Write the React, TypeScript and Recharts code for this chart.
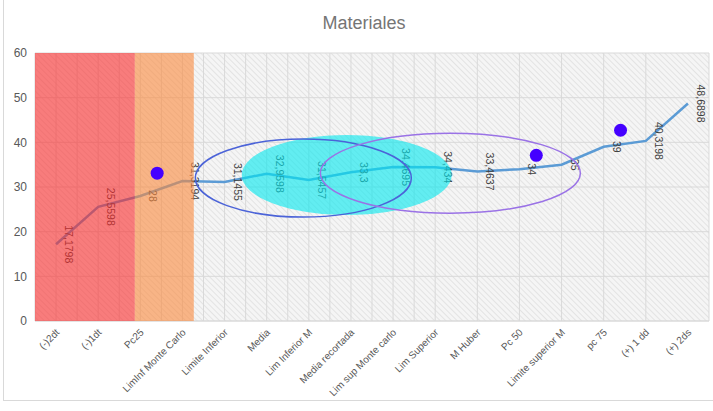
import React from "react";
import {
  ComposedChart,
  Line,
  Scatter,
  XAxis,
  YAxis,
  CartesianGrid,
  ReferenceArea,
  ReferenceDot,
  LabelList,
} from "recharts";

const categories = [
  "(-)2dt",
  "(-)1dt",
  "Pc25",
  "LimInf Monte Carlo",
  "Limite Inferior",
  "Media",
  "Lim Inferior M",
  "Media recortada",
  "Lim sup Monte carlo",
  "Lim Superior",
  "M Huber",
  "Pc 50",
  "Limite superior M",
  "pc 75",
  "(+) 1 dd",
  "(+) 2ds",
];
const values = [
  17.1798, 25.5598, 28, 31.3194, 31.1455, 32.9598, 31.5457, 33.3, 34.4695,
  34.434, 33.4637, 34, 35, 39, 40.3198, 48.6898,
];
// blue markers, placed between categories (index units)
const markerX = [2.4, 11.4, 13.4];
const markerY = [33.1, 37.1, 42.7];
const yTicks = [0, 10, 20, 30, 40, 50, 60];
// shaded zones on the category axis
const redZone = [-0.5, 1.87];
const orangeZone = [1.87, 3.27];
// highlight ellipse centres (category index, value)
const ellipseX = [6.9, 5.87, 9.36];
const ellipseY = [32.7, 32.0, 33.1];

const ellipseStyles = [
  { rx: 105, ry: 40, fill: "#00e8ee", fillOpacity: 0.6, stroke: "none" },
  { rx: 108, ry: 39, fill: "none", fillOpacity: 1, stroke: "#4b63d8" },
  { rx: 130, ry: 40, fill: "none", fillOpacity: 1, stroke: "#9a72e6" },
];

const rows = categories.map((name, i) => ({ x: i, name, v: values[i] }));
const markers = markerX.map((x, i) => ({ x, m: markerY[i] }));
const catTicks = categories.map((_, i) => i);
const gridTicks = Array.from({ length: categories.length * 2 + 1 }, (_, i) => i / 2 - 0.5);

const FONT = "'Liberation Sans', Arial, sans-serif";

const ValueLabel = (props: any) => {
  const { x, y, value } = props;
  const lx = x + 13;
  return (
    <text
      x={lx}
      y={y}
      transform={`rotate(90, ${lx}, ${y})`}
      textAnchor="middle"
      dominantBaseline="central"
      fontSize={10.5}
      fontFamily={FONT}
      fill="#404040"
    >
      {String(value).replace(".", ",")}
    </text>
  );
};

const CatTick = (props: any) => {
  const { x, y, payload } = props;
  const tx = x + 4;
  const ty = y + 4;
  return (
    <text
      x={tx}
      y={ty}
      transform={`rotate(-45, ${tx}, ${ty})`}
      textAnchor="end"
      fontSize={10}
      fontFamily={FONT}
      fill="#595959"
    >
      {categories[payload.value]}
    </text>
  );
};

const App = () => {
  return (
    <div
      style={{
        position: "absolute",
        left: 0,
        top: 0,
        width: 713,
        height: 411,
        background: "#fff",
        overflow: "hidden",
      }}
    >
      <div
        style={{
          position: "absolute",
          left: 3,
          top: -2,
          width: 720,
          height: 402,
          borderLeft: "1px solid #d9d9d9",
          borderBottom: "1px solid #d9d9d9",
        }}
      />
      <div
        style={{
          position: "absolute",
          left: 0,
          top: 13,
          width: 728,
          textAlign: "center",
          fontFamily: FONT,
          fontSize: 18,
          color: "#757575",
        }}
      >
        Materiales
      </div>
      <ComposedChart
        width={713}
        height={411}
        data={rows}
        margin={{ top: 53, right: 4, bottom: 0, left: 0 }}
      >
        <defs>
          <pattern
            id="hatch"
            patternUnits="userSpaceOnUse"
            width={4}
            height={4}
            patternTransform="rotate(-45)"
          >
            <rect width={4} height={4} fill="#f5f5f5" />
            <line x1={0} y1={0} x2={0} y2={4} stroke="#dedede" strokeWidth={1.5} />
          </pattern>
        </defs>
        <XAxis
          xAxisId="grid"
          type="number"
          dataKey="x"
          orientation="top"
          height={0}
          domain={[-0.5, 15.5]}
          ticks={gridTicks}
          hide
        />
        <CartesianGrid
          xAxisId="grid"
          stroke="#d9d9d9"
          fill="url(#hatch)"
          fillOpacity={1}
        />
        <XAxis
          xAxisId="main"
          type="number"
          dataKey="x"
          domain={[-0.5, 15.5]}
          ticks={catTicks}
          interval={0}
          height={90}
          tickLine={false}
          axisLine={{ stroke: "#d9d9d9" }}
          tick={<CatTick />}
        />
        <YAxis
          domain={[0, 60]}
          ticks={yTicks}
          width={35}
          tickLine={false}
          axisLine={false}
          tick={{ fill: "#595959", fontSize: 12, fontFamily: FONT }}
        />
        <Line
          xAxisId="main"
          dataKey="v"
          stroke="#5b9bd5"
          strokeWidth={2.5}
          dot={false}
          isAnimationActive={false}
        >
          <LabelList dataKey="v" content={<ValueLabel />} />
        </Line>
        <ReferenceArea
          xAxisId="main"
          x1={redZone[0]}
          x2={redZone[1]}
          fill="#fa2b2b"
          fillOpacity={0.6}
          stroke="none"
          zIndex={2500}
        />
        <ReferenceArea
          xAxisId="main"
          x1={orangeZone[0]}
          x2={orangeZone[1]}
          fill="#fa893c"
          fillOpacity={0.6}
          stroke="none"
          zIndex={2500}
        />
        {ellipseX.map((ex, i) => (
          <ReferenceDot
            key={i}
            xAxisId="main"
            x={ex}
            y={ellipseY[i]}
            zIndex={2600}
            shape={(p: any) => (
              <ellipse
                cx={p.cx}
                cy={p.cy}
                rx={ellipseStyles[i].rx}
                ry={ellipseStyles[i].ry}
                fill={ellipseStyles[i].fill}
                fillOpacity={ellipseStyles[i].fillOpacity}
                stroke={ellipseStyles[i].stroke}
                strokeWidth={1.5}
              />
            )}
          />
        ))}
        <Scatter
          xAxisId="main"
          data={markers}
          dataKey="m"
          isAnimationActive={false}
          zIndex={2700}
          shape={(p: any) => <circle cx={p.cx} cy={p.cy} r={6.5} fill="#4400ff" />}
        />
      </ComposedChart>
    </div>
  );
};

export default App;
